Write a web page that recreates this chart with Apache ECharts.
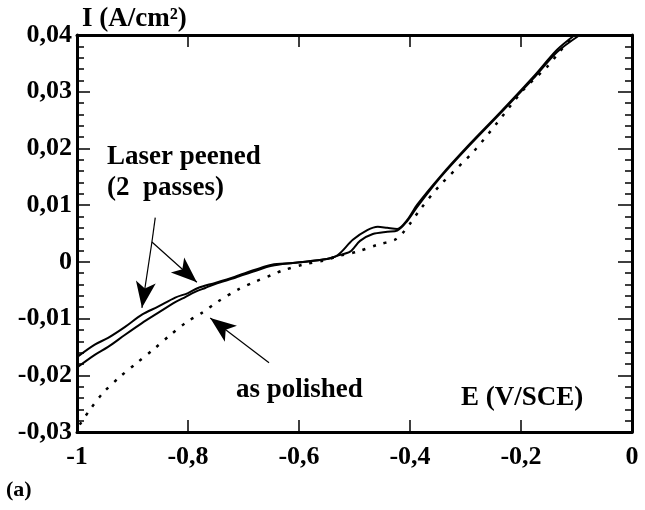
<!DOCTYPE html>
<html>
<head>
<meta charset="utf-8">
<script src="https://cdn.jsdelivr.net/npm/echarts@6/dist/echarts.min.js"></script>
<style>
	html, body { margin: 0; padding: 0; background: #fff; }
	#chart { width: 645px; height: 510px; }
</style>
</head>
<body>
<div id="chart"></div>
<script>
	// potential E (V/SCE) and current I (A/cm2)
	var peenedAE = [-1.000, -0.968, -0.944, -0.914, -0.883, -0.854, -0.823, -0.800, -0.782, -0.751, -0.715, -0.679, -0.649, -0.611, -0.550, -0.530, -0.503, -0.477, -0.458, -0.441, -0.423, -0.405, -0.387, -0.346, -0.297, -0.238, -0.178, -0.135, -0.103];
	var peenedAI = [-0.0168, -0.0146, -0.0134, -0.0115, -0.0093, -0.0079, -0.0063, -0.0055, -0.0046, -0.0037, -0.0026, -0.0014, -0.0005, -0.0002, 0.0005, 0.0012, 0.0039, 0.0056, 0.0062, 0.0060, 0.0058, 0.0074, 0.0101, 0.0150, 0.0203, 0.0263, 0.0326, 0.0374, 0.0400];
	var peenedBE = [-0.998, -0.968, -0.944, -0.914, -0.883, -0.854, -0.823, -0.805, -0.787, -0.769, -0.751, -0.715, -0.679, -0.649, -0.611, -0.550, -0.530, -0.508, -0.490, -0.467, -0.441, -0.423, -0.405, -0.387, -0.346, -0.297, -0.238, -0.178, -0.135, -0.094];
	var peenedBI = [-0.0185, -0.0164, -0.0150, -0.0129, -0.0108, -0.0090, -0.0071, -0.0062, -0.0053, -0.0046, -0.0039, -0.0028, -0.0016, -0.0007, -0.0002, 0.0005, 0.0011, 0.0018, 0.0037, 0.0049, 0.0053, 0.0055, 0.0072, 0.0097, 0.0148, 0.0201, 0.0261, 0.0323, 0.0370, 0.0400];
	var polishedE = [-0.995, -0.977, -0.953, -0.923, -0.892, -0.863, -0.832, -0.802, -0.775, -0.746, -0.710, -0.679, -0.649, -0.629, -0.593, -0.557, -0.526, -0.495, -0.459, -0.427, -0.413, -0.400, -0.382, -0.346, -0.286, -0.243, -0.196, -0.153, -0.135, -0.108];
	var polishedI = [-0.0287, -0.0261, -0.0231, -0.0203, -0.0178, -0.0155, -0.0129, -0.0106, -0.0090, -0.0070, -0.0049, -0.0035, -0.0023, -0.0015, -0.0005, 0.0002, 0.0011, 0.0018, 0.0030, 0.0039, 0.0051, 0.0067, 0.0092, 0.0135, 0.0194, 0.0245, 0.0303, 0.0344, 0.0365, 0.0397];

	// arrow annotations, in data coordinates
	var peenedStem = [[-0.859, 0.0078], [-0.865, 0.0035]];
	var peenedTips = [[-0.883, -0.0081], [-0.784, -0.0036]];
	var polishedArrow = [[-0.654, -0.0178], [-0.760, -0.0099]];

	function pairs(xs, ys) {
		var out = [];
		for (var i = 0; i < xs.length; i++) {
			out.push([xs[i], ys[i]]);
		}
		return out;
	}

	var font = 'Liberation Serif';
	var labelStyle = {
		color: '#000',
		fontFamily: font,
		fontWeight: 'bold',
		fontSize: 26
	};
	var noteStyle = {
		fill: '#000',
		fontFamily: font,
		fontWeight: 'bold',
		fontSize: 27
	};

	var xFmt = function (v) {
		if (Math.abs(v) < 1e-9) return '0';
		if (Math.abs(v + 1) < 1e-9) return '-1';
		return v.toFixed(1).replace('.', ',');
	};
	var yFmt = function (v) {
		if (Math.abs(v) < 1e-9) return '0';
		return v.toFixed(2).replace('.', ',');
	};

	var axisLine = { show: true, onZero: false, lineStyle: { color: '#000', width: 3 } };

	var arrowLine = { color: '#000', width: 1.2, type: 'solid' };
	var markLines = [
		[{ coord: peenedStem[0], symbol: 'none' }, { coord: peenedStem[1], symbol: 'none' }],
		[{ coord: peenedStem[1], symbol: 'none' }, { coord: peenedTips[0], symbol: 'arrow' }],
		[{ coord: peenedStem[1], symbol: 'none' }, { coord: peenedTips[1], symbol: 'arrow' }],
		[{ coord: polishedArrow[0], symbol: 'none' }, { coord: polishedArrow[1], symbol: 'arrow' }]
	];

	var chart = echarts.init(document.getElementById('chart'));
	chart.setOption({
		animation: false,
		backgroundColor: '#fff',
		grid: { left: 77, right: 13, top: 35, bottom: 78 },
		xAxis: [{
			type: 'value',
			min: -1,
			max: 0,
			interval: 0.2,
			position: 'bottom',
			axisLine: axisLine,
			axisTick: { inside: true, length: 12, lineStyle: { color: '#000', width: 1.5 } },
			axisLabel: Object.assign({ margin: 12, formatter: xFmt }, labelStyle),
			splitLine: { show: false }
		}, {
			type: 'value',
			min: -1,
			max: 0,
			interval: 0.2,
			position: 'top',
			axisLine: axisLine,
			axisTick: { inside: true, length: 12, lineStyle: { color: '#000', width: 1.5 } },
			axisLabel: { show: false },
			splitLine: { show: false }
		}],
		yAxis: [{
			type: 'value',
			min: -0.03,
			max: 0.04,
			interval: 0.01,
			position: 'left',
			name: 'I (A/cm²)',
			nameLocation: 'end',
			nameGap: 2,
			nameTextStyle: Object.assign({ align: 'left', verticalAlign: 'bottom', padding: [0, 0, 0, 5] }, labelStyle, { fontSize: 27 }),
			axisLine: axisLine,
			axisTick: { inside: true, length: 13, lineStyle: { color: '#000', width: 1.5 } },
			minorTick: { show: true, splitNumber: 5, length: 7, lineStyle: { color: '#000', width: 1.5 } },
			axisLabel: Object.assign({ margin: 5, formatter: yFmt }, labelStyle),
			splitLine: { show: false }
		}, {
			type: 'value',
			min: -0.03,
			max: 0.04,
			interval: 0.01,
			position: 'right',
			axisLine: axisLine,
			axisTick: { inside: true, length: 14, lineStyle: { color: '#000', width: 1.5 } },
			minorTick: { show: true, splitNumber: 5, length: 7, lineStyle: { color: '#000', width: 1.5 } },
			axisLabel: { show: false },
			splitLine: { show: false }
		}],
		series: [{
			name: 'Laser peened A',
			type: 'line',
			data: pairs(peenedAE, peenedAI),
			showSymbol: false,
			smooth: 0.3,
			lineStyle: { color: '#000', width: 2 }
		}, {
			name: 'Laser peened B',
			type: 'line',
			data: pairs(peenedBE, peenedBI),
			showSymbol: false,
			smooth: 0.3,
			lineStyle: { color: '#000', width: 2 }
		}, {
			name: 'as polished',
			type: 'line',
			data: pairs(polishedE, polishedI),
			showSymbol: false,
			smooth: 0.3,
			lineStyle: { color: '#000', width: 2.5, type: [3, 8] },
			markLine: {
				silent: true,
				symbolSize: [15, 26],
				label: { show: false },
				lineStyle: arrowLine,
				emphasis: { disabled: true },
				data: markLines
			}
		}],
		graphic: [{
			type: 'text',
			left: 107,
			top: 144,
			style: Object.assign({ text: 'Laser peened' }, noteStyle)
		}, {
			type: 'text',
			left: 107,
			top: 175,
			style: Object.assign({ text: '(2  passes)' }, noteStyle)
		}, {
			type: 'text',
			left: 236,
			top: 377,
			style: Object.assign({ text: 'as polished' }, noteStyle)
		}, {
			type: 'text',
			left: 461,
			top: 385,
			style: Object.assign({ text: 'E (V/SCE)' }, noteStyle)
		}, {
			type: 'text',
			left: 6,
			top: 479,
			style: Object.assign({ text: '(a)' }, noteStyle, { fontSize: 22 })
		}]
	});
</script>
</body>
</html>
